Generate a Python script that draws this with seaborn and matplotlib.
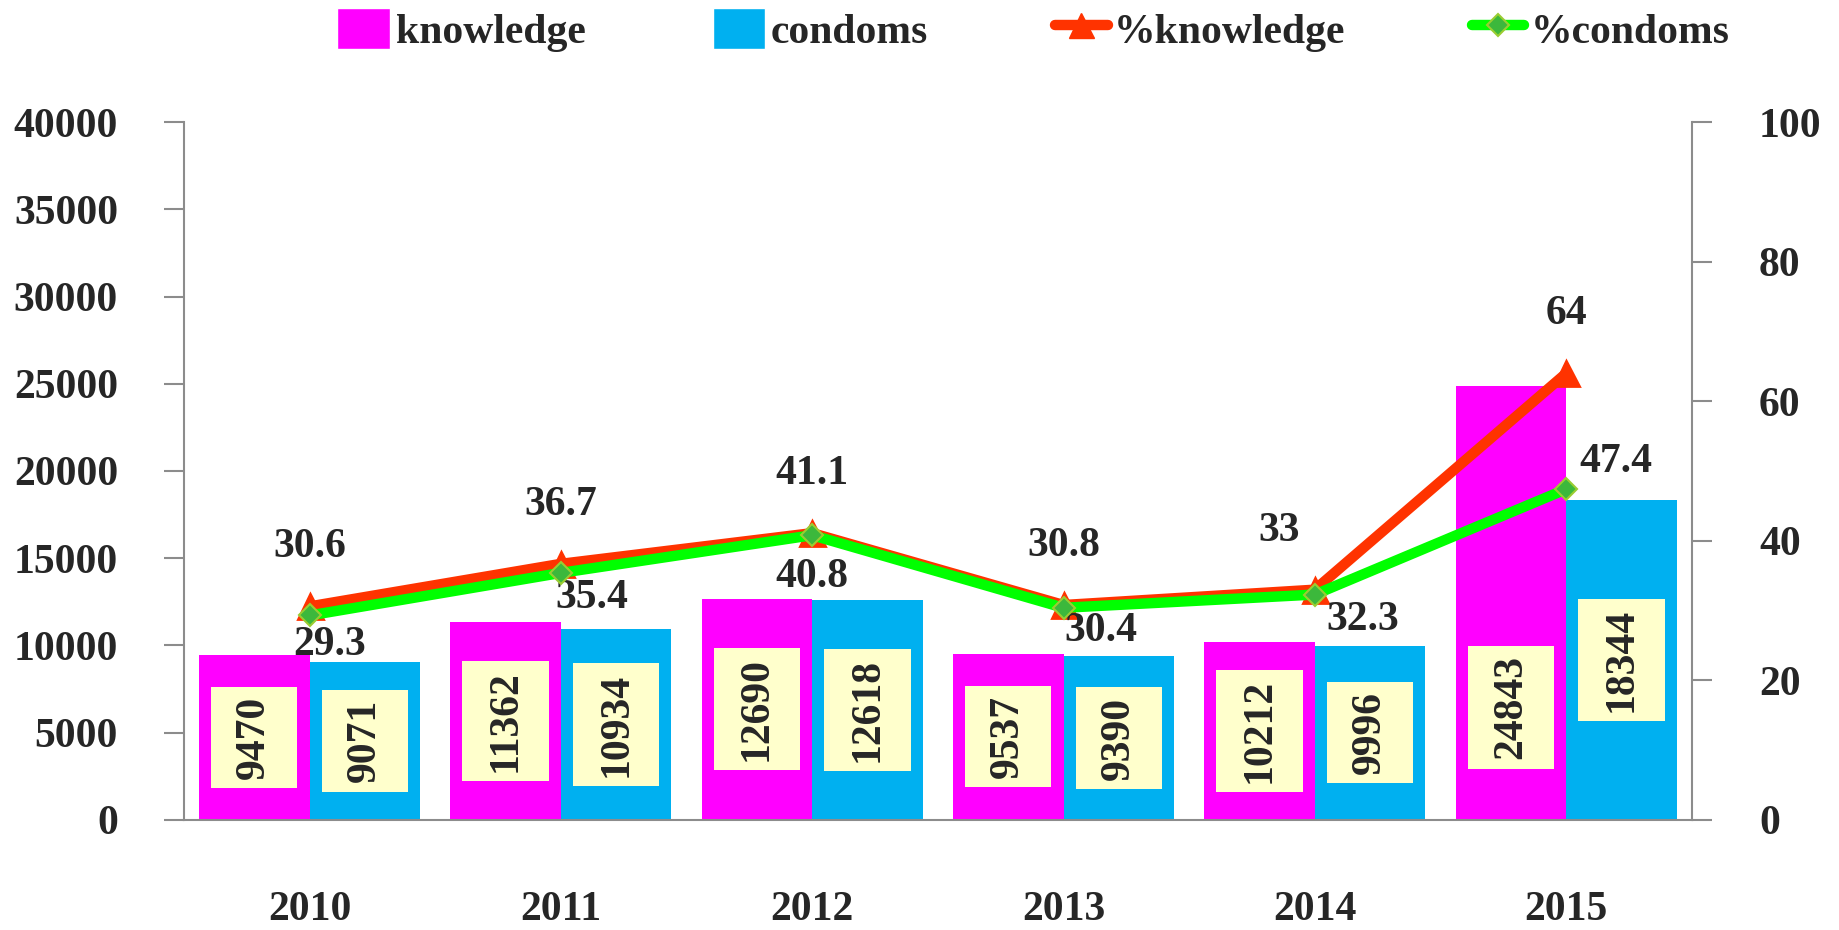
import numpy as np
import pandas as pd
import matplotlib
matplotlib.use('Agg')
import matplotlib.pyplot as plt
import seaborn as sns
from matplotlib.path import Path
from matplotlib.patches import Patch
from matplotlib.lines import Line2D

# Data
years = ['2010', '2011', '2012', '2013', '2014', '2015']
knowledge = [9470, 11362, 12690, 9537, 10212, 24843]
condoms = [9071, 10934, 12618, 9390, 9996, 18344]
pct_knowledge = [30.6, 36.7, 41.1, 30.8, 33, 64]
pct_condoms = [29.3, 35.4, 40.8, 30.4, 32.3, 47.4]

# Colours
C_KNOW = '#FF00FF'
C_COND = '#00B0F0'
C_PK = '#FF3300'
C_PC = '#00FF00'
GREY = '#8C8C8C'
FS = 30

sns.set_style('white')
plt.rcParams['font.family'] = ['Liberation Serif', 'DejaVu Serif']
plt.rcParams['font.weight'] = 'bold'

df = pd.DataFrame({
    'year': years * 2,
    'series': ['knowledge'] * len(years) + ['condoms'] * len(years),
    'value': knowledge + condoms,
})

fig = plt.figure(figsize=(18.39, 9.30), dpi=100)
ax = fig.add_axes([0.1, 0.1183, 0.82, 0.7505])

sns.barplot(data=df, x='year', y='value', hue='series', palette=[C_KNOW, C_COND],
            width=0.88, saturation=1, linewidth=0, legend=False, ax=ax)

ax.set_xlim(-0.5, 5.5)
ax.set_ylim(0, 40000)
ax.set_yticks(np.arange(0, 40001, 5000))
ax.set_xlabel('')
ax.set_ylabel('')
ax.set_xticks(np.arange(-0.5, 6, 1), labels=[])
ax.set_xticks(np.arange(len(years)), labels=years, minor=True)
ax.tick_params(axis='x', which='major', direction='out', length=14.4, width=1.5, color=GREY)
ax.tick_params(axis='x', which='minor', length=0, pad=51, labelsize=FS)
ax.tick_params(axis='y', direction='out', length=14.4, width=1.5, color=GREY, pad=33, labelsize=FS)
for s in ['top', 'right']:
    ax.spines[s].set_visible(False)
for s in ['left', 'bottom']:
    ax.spines[s].set_color(GREY)
    ax.spines[s].set_linewidth(1.5)


# rectangle box with more padding across the text than along it
def label_box(x0, y0, width, height, mutation_size):
    px = 0.22 * mutation_size
    py = 0.58 * mutation_size
    x0, y0 = x0 - px, y0 - py
    x1, y1 = x0 + width + 2 * px, y0 + height + 2 * py
    return Path([(x0, y0), (x1, y0), (x1, y1), (x0, y1), (x0, y0)], closed=True)


box = dict(boxstyle=label_box, facecolor='#FFFFCC', edgecolor='none')
know_label_y = [v / 2 for v in knowledge]
know_label_y[-1] = 6450  # moved down in the original to keep clear of the line
cond_label_y = [v / 2 for v in condoms]
for i in range(len(years)):
    ax.text(i - 0.22, know_label_y[i], str(knowledge[i]), rotation=90, ha='center', va='center',
            fontsize=FS, fontweight='bold', bbox=box, zorder=5)
    ax.text(i + 0.22, cond_label_y[i], str(condoms[i]), rotation=90, ha='center', va='center',
            fontsize=FS, fontweight='bold', bbox=box, zorder=5)

# percentage lines on the right axis
ax2 = ax.twinx()
xpos = np.arange(len(years))
sns.lineplot(x=xpos, y=pct_knowledge, ax=ax2, color=C_PK, lw=7.5, marker='^', ms=18,
             mfc=C_PK, mec=C_PK, mew=2, solid_joinstyle='round', zorder=3)
sns.lineplot(x=xpos, y=pct_condoms, ax=ax2, color=C_PC, lw=7.5, marker='D', ms=11,
             mfc='#3CB83C', mec='#9ACD32', mew=1.5, zorder=4)
ax2.set_ylim(0, 100)
ax2.set_yticks(np.arange(0, 101, 20))
ax2.set_xlim(-0.5, 5.5)
ax2.set_ylabel('')
ax2.tick_params(axis='y', direction='out', length=14.4, width=1.5, color=GREY, pad=34, labelsize=FS)
for s in ['top', 'left', 'bottom']:
    ax2.spines[s].set_visible(False)
ax2.spines['right'].set_color(GREY)
ax2.spines['right'].set_linewidth(1.5)

pk_offsets = [(0, 59), (0, 59), (0, 59), (0, 59), (-36, 59), (0, 59)]
pc_offsets = [(20, -30), (31, -25), (0, -42), (37, -23), (48, -25), (50, 27)]
for i in range(len(years)):
    ax2.annotate(f'{pct_knowledge[i]:g}', (xpos[i], pct_knowledge[i]), xytext=pk_offsets[i],
                 textcoords='offset pixels', ha='center', va='center', fontsize=FS, fontweight='bold')
    ax2.annotate(f'{pct_condoms[i]:g}', (xpos[i], pct_condoms[i]), xytext=pc_offsets[i],
                 textcoords='offset pixels', ha='center', va='center', fontsize=FS, fontweight='bold')

handles = [
    Patch(facecolor=C_KNOW, label='knowledge'),
    Patch(facecolor=C_COND, label='condoms'),
    Line2D([], [], color=C_PK, lw=7.5, marker='^', ms=18, mfc=C_PK, mec=C_PK, label='%knowledge'),
    Line2D([], [], color=C_PC, lw=7.5, marker='D', ms=11, mfc='#3CB83C', mec='#9ACD32',
           mew=1.5, label='%condoms'),
]
fig.legend(handles=handles, loc='center', bbox_to_anchor=(0.562, 0.968), ncol=4, frameon=False,
           prop={'family': 'Liberation Serif', 'weight': 'bold', 'size': FS},
           handlelength=1.25, handleheight=1.15, handletextpad=0.15, columnspacing=3.05)

fig.savefig('out.png', dpi=100)
